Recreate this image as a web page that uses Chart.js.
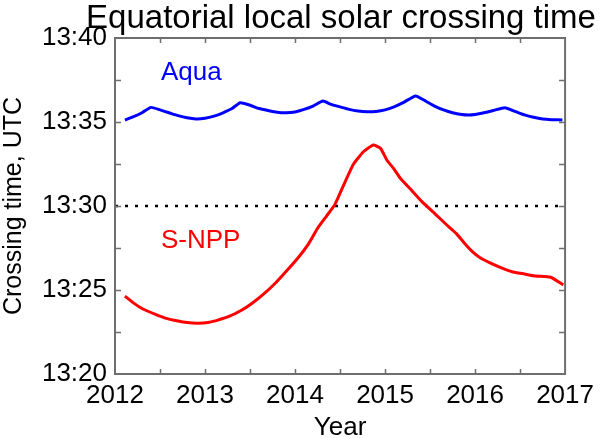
<!DOCTYPE html>
<html>
<head>
<meta charset="utf-8">
<script src="https://cdn.jsdelivr.net/npm/chart.js@4"></script>
<style>
  html, body { margin: 0; padding: 0; background: #fff; }
  #wrap { width: 600px; height: 438px; }
</style>
</head>
<body>
<div id="wrap"><canvas id="chart" width="600" height="438"></canvas></div>
<script>
// Data (minutes past 13:00 UTC)
const aquaYears = [2012.11, 2012.2, 2012.3, 2012.4, 2012.5, 2012.6, 2012.7, 2012.8, 2012.9, 2013.0,
    2013.1, 2013.2, 2013.3, 2013.39, 2013.5, 2013.6, 2013.7, 2013.8, 2013.9, 2014.0,
    2014.1, 2014.2, 2014.31, 2014.4, 2014.5, 2014.6, 2014.7, 2014.8, 2014.9, 2015.0,
    2015.1, 2015.2, 2015.34, 2015.45, 2015.55, 2015.65, 2015.75, 2015.85, 2015.93, 2016.0,
    2016.1, 2016.2, 2016.33, 2016.45, 2016.55, 2016.65, 2016.75, 2016.85, 2016.97];
const aquaMinutes = [35.12, 35.3, 35.55, 35.87, 35.72, 35.55, 35.38, 35.25, 35.18, 35.22,
    35.35, 35.55, 35.8, 36.15, 36.0, 35.8, 35.68, 35.58, 35.55, 35.6,
    35.75, 35.95, 36.25, 36.05, 35.9, 35.75, 35.65, 35.61, 35.63, 35.72,
    35.9, 36.15, 36.55, 36.25, 35.95, 35.72, 35.55, 35.45, 35.42, 35.45,
    35.55, 35.68, 35.85, 35.62, 35.42, 35.28, 35.18, 35.14, 35.12];

const snppYears = [2012.11, 2012.2, 2012.31, 2012.45, 2012.57, 2012.7, 2012.8, 2012.92, 2013.05, 2013.15,
    2013.26, 2013.4, 2013.52, 2013.65, 2013.78, 2013.9, 2014.03, 2014.15, 2014.25, 2014.35,
    2014.44, 2014.47, 2014.57, 2014.65, 2014.76, 2014.87, 2014.95, 2015.02, 2015.1, 2015.17,
    2015.3, 2015.41, 2015.57, 2015.68, 2015.79, 2015.88, 2015.97, 2016.06, 2016.16, 2016.3,
    2016.41, 2016.55, 2016.67, 2016.84, 2016.98];
const snppMinutes = [24.64, 24.25, 23.87, 23.55, 23.31, 23.15, 23.06, 23.02, 23.08, 23.22,
    23.41, 23.78, 24.2, 24.75, 25.4, 26.1, 26.89, 27.75, 28.67, 29.4,
    30.06, 30.4, 31.6, 32.5, 33.23, 33.63, 33.43, 32.74, 32.2, 31.65,
    30.9, 30.26, 29.46, 28.9, 28.37, 27.8, 27.28, 26.9, 26.63, 26.3,
    26.09, 25.95, 25.83, 25.76, 25.3];

const refYears = [2012, 2017];
const refMinutes = [30, 30];

const xTicks = [2012, 2013, 2014, 2015, 2016, 2017];
const yTicks = [20, 25, 30, 35, 40];
const seriesNames = ['Aqua', 'S-NPP'];
const titleText = 'Equatorial local solar crossing time';

const FONT = '"Liberation Sans", Arial, Helvetica, sans-serif';
const AXIS = '#6e6e6e';

const toXY = (xs, ys) => xs.map((x, i) => ({ x, y: ys[i] }));
const fmtTime = v => '13:' + String(v).padStart(2, '0');

// frame, inward ticks, title and series labels
const decor = {
    id: 'decor',
    afterDraw(chart) {
        const { ctx, chartArea: a, scales } = chart;
        const xs = scales.x, ys = scales.y;
        ctx.save();
        ctx.strokeStyle = AXIS;
        ctx.lineWidth = 2;
        ctx.strokeRect(a.left, a.top, a.right - a.left, a.bottom - a.top);
        ctx.lineWidth = 1.5;
        ctx.beginPath();
        for (let v = 2012.5; v < 2017; v += 0.5) {
            const px = Math.round(xs.getPixelForValue(v)) + 0.5;
            ctx.moveTo(px, a.bottom); ctx.lineTo(px, a.bottom - 5);
            ctx.moveTo(px, a.top); ctx.lineTo(px, a.top + 5);
        }
        for (let v = 22.5; v < 40; v += 2.5) {
            const py = Math.round(ys.getPixelForValue(v)) + 0.5;
            ctx.moveTo(a.left, py); ctx.lineTo(a.left + 6, py);
            ctx.moveTo(a.right, py); ctx.lineTo(a.right - 6, py);
        }
        ctx.stroke();

        ctx.fillStyle = '#000';
        ctx.font = '33px ' + FONT;
        ctx.textAlign = 'center';
        ctx.textBaseline = 'alphabetic';
        ctx.fillText(titleText, 341, 28);

        ctx.font = '26px ' + FONT;
        ctx.textAlign = 'left';
        ctx.fillStyle = '#0000ff';
        ctx.fillText(seriesNames[0], 161, 80);
        ctx.fillStyle = '#ff0000';
        ctx.fillText(seriesNames[1], 161, 248);
        ctx.restore();
    }
};

new Chart(document.getElementById('chart'), {
    type: 'line',
    data: {
        datasets: [
            { label: seriesNames[0], data: toXY(aquaYears, aquaMinutes), borderColor: '#0000ff', borderWidth: 3, pointRadius: 0, tension: 0.15 },
            { label: seriesNames[1], data: toXY(snppYears, snppMinutes), borderColor: '#ff0000', borderWidth: 3, pointRadius: 0, tension: 0.15 },
            { label: 'ref', data: toXY(refYears, refMinutes), borderColor: '#000', borderWidth: 2.5, borderDash: [3, 7], pointRadius: 0 }
        ]
    },
    options: {
        responsive: false,
        animation: false,
        layout: { padding: { top: 38, right: 30, left: 0, bottom: 0 } },
        plugins: { legend: { display: false }, tooltip: { enabled: false }, title: { display: false } },
        scales: {
            x: {
                type: 'linear', min: 2012, max: 2017,
                afterBuildTicks: s => { s.ticks = xTicks.map(v => ({ value: v })); },
                afterFit: s => { s.height = 64; },
                grid: { display: false, drawTicks: false },
                border: { display: false },
                ticks: { color: '#000', font: { family: FONT, size: 26 }, padding: 6, maxRotation: 0, autoSkip: false, callback: v => String(v) },
                title: { display: true, text: 'Year', color: '#000', font: { family: FONT, size: 26, lineHeight: 0.8 }, padding: { top: 0, bottom: 0 } }
            },
            y: {
                type: 'linear', min: 20, max: 40,
                afterBuildTicks: s => { s.ticks = yTicks.map(v => ({ value: v })); },
                afterFit: s => { s.width = 115; },
                grid: { display: false, drawTicks: false },
                border: { display: false },
                ticks: { color: '#000', font: { family: FONT, size: 26 }, padding: 8, callback: v => fmtTime(v) },
                title: { display: true, text: 'Crossing time, UTC', color: '#000', font: { family: FONT, size: 25, lineHeight: 1.1 }, padding: 0 }
            }
        }
    },
    plugins: [decor]
});
</script>
</body>
</html>
